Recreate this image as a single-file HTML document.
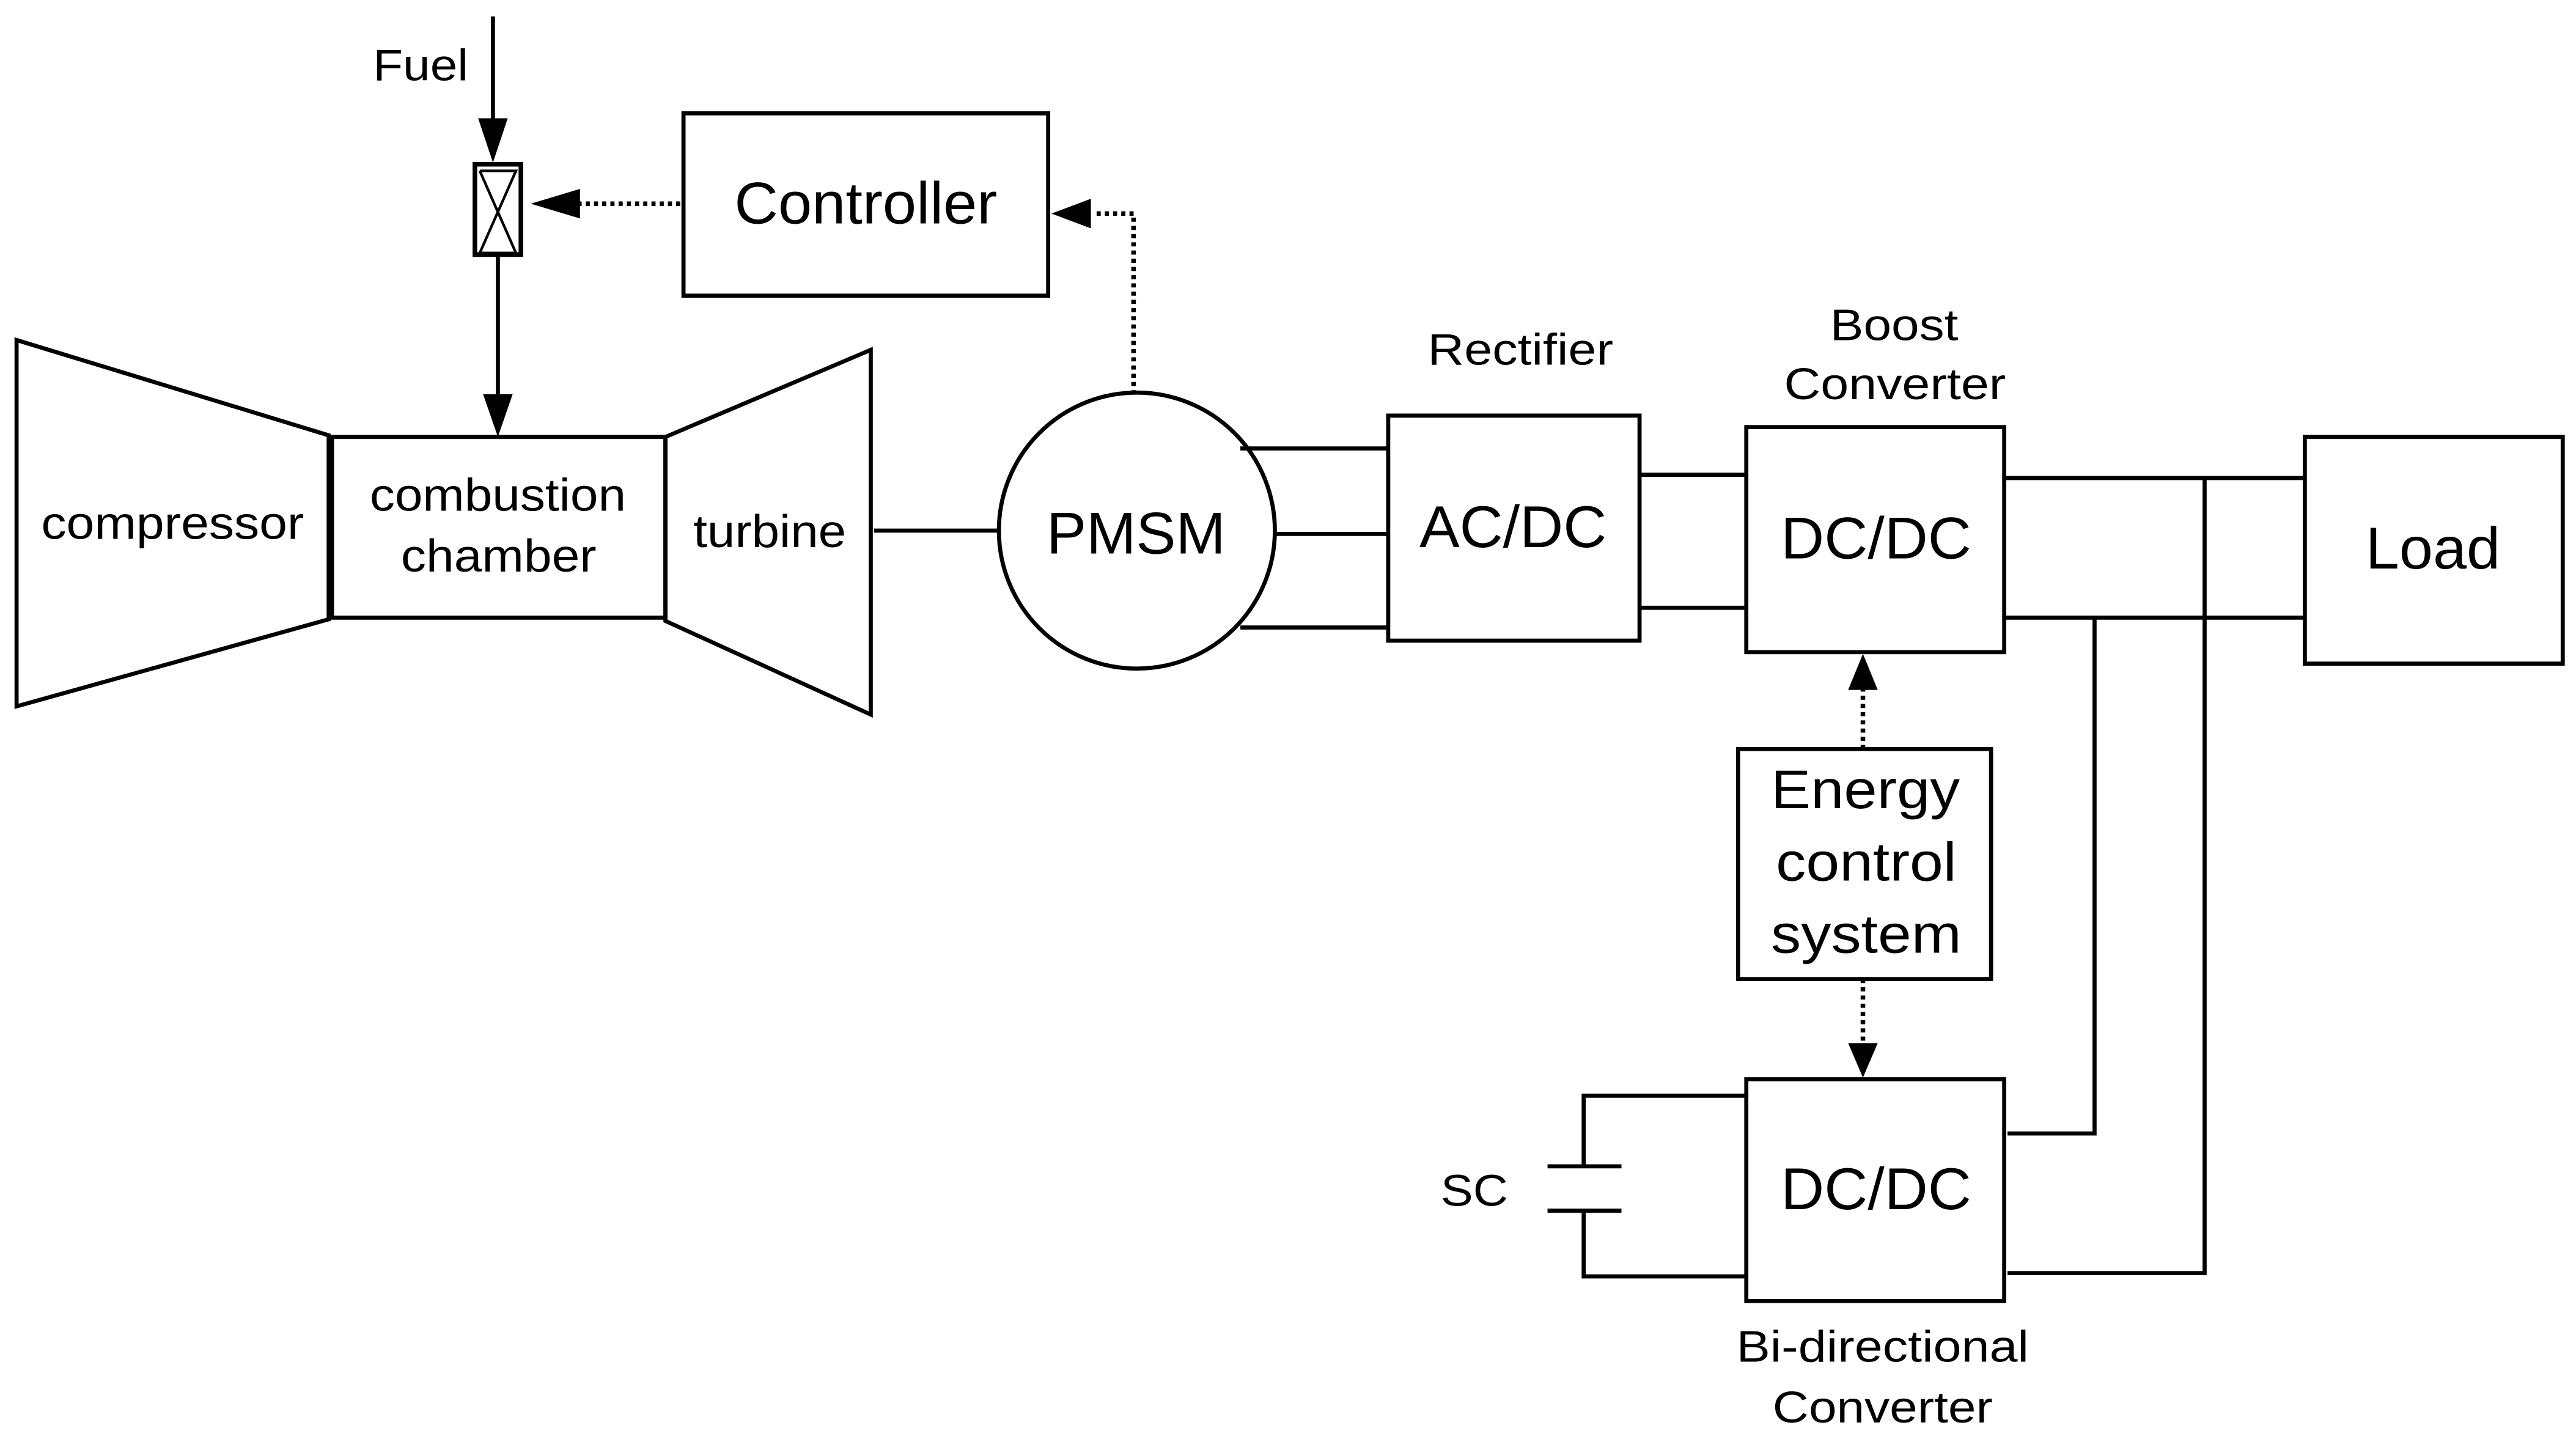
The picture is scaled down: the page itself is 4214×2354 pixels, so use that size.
<!DOCTYPE html>
<html><head><meta charset="utf-8"><style>html,body{margin:0;padding:0;background:#fff}svg{display:block}text{font-family:"Liberation Sans",Arial,sans-serif}</style></head>
<body>
<svg width="4214" height="2354" viewBox="0 0 1568 876" xmlns="http://www.w3.org/2000/svg">
<rect width="1568" height="876" fill="#fff"/>
<g fill="none" stroke="#000" stroke-width="2.5">
<line x1="300" y1="10" x2="300" y2="72"/>
<line x1="303" y1="155" x2="303" y2="240"/>
<rect x="289" y="100" width="28" height="55" stroke-width="2.8"/>
<polyline points="292,104 314,154 292,154 314,104 292,104" stroke-width="1.6"/>
<rect x="416" y="69" width="222" height="111"/>
<line x1="414" y1="124" x2="345" y2="124" stroke-dasharray="2.5 2.5" stroke-width="2.8"/>
<polyline points="690,240 690,130 665,130" stroke-dasharray="2.5 2.5" stroke-width="2.8"/>
<polygon points="10,207 200,265 200,377 10,430"/>
<rect x="202" y="266" width="203" height="110"/>
<polygon points="405,266 530,213 530,435 405,378"/>
<line x1="532" y1="323" x2="608" y2="323"/>
<circle cx="692" cy="323" r="84"/>
<line x1="755" y1="273" x2="845" y2="273"/>
<line x1="776" y1="325" x2="845" y2="325"/>
<line x1="755" y1="382" x2="845" y2="382"/>
<rect x="845" y="253" width="153" height="137"/>
<line x1="998" y1="289" x2="1063" y2="289"/>
<line x1="998" y1="370" x2="1063" y2="370"/>
<rect x="1063" y="260" width="157" height="137"/>
<line x1="1220" y1="291" x2="1403" y2="291"/>
<line x1="1220" y1="376" x2="1403" y2="376"/>
<rect x="1403" y="266" width="157" height="138"/>
<polyline points="1342,291 1342,775 1222,775"/>
<polyline points="1275,376 1275,690 1222,690"/>
<rect x="1058" y="456" width="154" height="140"/>
<line x1="1134" y1="456" x2="1134" y2="418" stroke-dasharray="2.5 2.5" stroke-width="2.8"/>
<line x1="1134" y1="596" x2="1134" y2="637" stroke-dasharray="2.5 2.5" stroke-width="2.8"/>
<rect x="1063" y="657" width="157" height="135"/>
<line x1="942" y1="710" x2="987" y2="710"/>
<line x1="942" y1="737" x2="987" y2="737"/>
<polyline points="964,710 964,667 1063,667"/>
<polyline points="964,737 964,777 1063,777"/>
</g>
<g fill="#000">
<polygon points="291,72 309,72 300,99"/>
<polygon points="294,240 312,240 303,266"/>
<polygon points="323,124 353,115 353,133"/>
<polygon points="640,130 664,121 664,139"/>
<polygon points="1134,398 1125,420 1143,420"/>
<polygon points="1134,656 1125,635 1143,635"/>
</g>
<g fill="#000" lengthAdjust="spacingAndGlyphs">
<text x="227" y="49" font-size="27" textLength="58" lengthAdjust="spacingAndGlyphs">Fuel</text>
<text x="447" y="136" font-size="36" textLength="160" lengthAdjust="spacingAndGlyphs">Controller</text>
<text x="25" y="328" font-size="28" textLength="160" lengthAdjust="spacingAndGlyphs">compressor</text>
<text x="225" y="311" font-size="28" textLength="156" lengthAdjust="spacingAndGlyphs">combustion</text>
<text x="244" y="348" font-size="28" textLength="119" lengthAdjust="spacingAndGlyphs">chamber</text>
<text x="422" y="333" font-size="28" textLength="93" lengthAdjust="spacingAndGlyphs">turbine</text>
<text x="637" y="337" font-size="36" textLength="109" lengthAdjust="spacingAndGlyphs">PMSM</text>
<text x="869" y="222" font-size="27" textLength="113" lengthAdjust="spacingAndGlyphs">Rectifier</text>
<text x="864" y="333" font-size="36" textLength="114" lengthAdjust="spacingAndGlyphs">AC/DC</text>
<text x="1114" y="207" font-size="27" textLength="78" lengthAdjust="spacingAndGlyphs">Boost</text>
<text x="1086" y="243" font-size="27" textLength="135" lengthAdjust="spacingAndGlyphs">Converter</text>
<text x="1084" y="340" font-size="36" textLength="116" lengthAdjust="spacingAndGlyphs">DC/DC</text>
<text x="1440" y="346" font-size="36" textLength="82" lengthAdjust="spacingAndGlyphs">Load</text>
<text x="1078" y="492" font-size="33" textLength="115" lengthAdjust="spacingAndGlyphs">Energy</text>
<text x="1081" y="536" font-size="33" textLength="110" lengthAdjust="spacingAndGlyphs">control</text>
<text x="1078" y="580" font-size="33" textLength="116" lengthAdjust="spacingAndGlyphs">system</text>
<text x="1084" y="736" font-size="36" textLength="116" lengthAdjust="spacingAndGlyphs">DC/DC</text>
<text x="877" y="734" font-size="27" textLength="41" lengthAdjust="spacingAndGlyphs">SC</text>
<text x="1057" y="829" font-size="27" textLength="178" lengthAdjust="spacingAndGlyphs">Bi-directional</text>
<text x="1079" y="866" font-size="27" textLength="134" lengthAdjust="spacingAndGlyphs">Converter</text>
</g>
</svg>
</body></html>
